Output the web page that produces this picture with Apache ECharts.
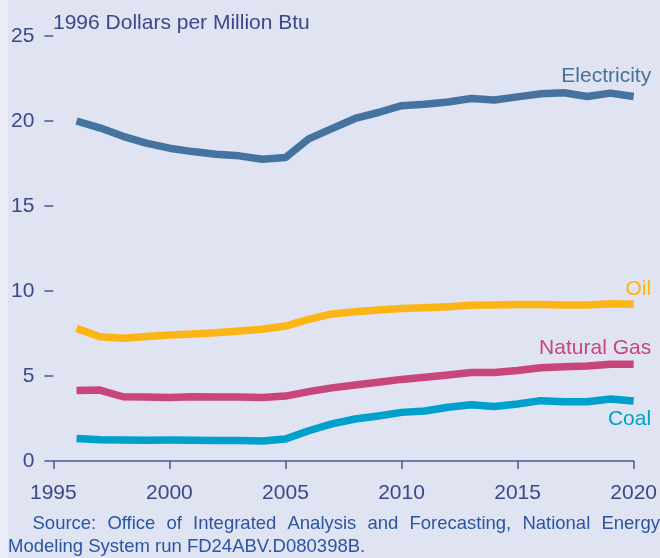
<!DOCTYPE html>
<html>

<head>
	<title>Energy prices</title>
	<script src="https://cdn.jsdelivr.net/npm/echarts@6/dist/echarts.min.js"></script>
	<style>
		body { margin: 0; background: #eceef8; }
		#main { position: absolute; left: 8px; top: 0; width: 652px; height: 558px; }
	</style>
</head>

<body>
	<div id="main"></div>
	<script type="text/javascript">
	var myChart = echarts.init(document.getElementById('main'));

	// years 1996..2020
	var years = [1996, 1997, 1998, 1999, 2000, 2001, 2002, 2003, 2004, 2005, 2006, 2007, 2008,
		2009, 2010, 2011, 2012, 2013, 2014, 2015, 2016, 2017, 2018, 2019, 2020];

	var electricity = [20.0, 19.6, 19.1, 18.7, 18.4, 18.2, 18.05, 17.95, 17.75, 17.85, 18.95, 19.55, 20.15,
		20.5, 20.9, 20.98, 21.12, 21.32, 21.24, 21.42, 21.6, 21.66, 21.44, 21.64, 21.44];
	var oil = [7.8, 7.31, 7.22, 7.32, 7.41, 7.47, 7.55, 7.65, 7.75, 7.94, 8.33, 8.65, 8.78,
		8.88, 8.97, 9.02, 9.08, 9.16, 9.17, 9.2, 9.21, 9.18, 9.18, 9.25, 9.22];
	var naturalGas = [4.14, 4.17, 3.78, 3.76, 3.73, 3.78, 3.77, 3.76, 3.73, 3.82, 4.08, 4.3, 4.47,
		4.63, 4.8, 4.92, 5.06, 5.2, 5.2, 5.32, 5.49, 5.55, 5.59, 5.69, 5.69];
	var coal = [1.33, 1.25, 1.24, 1.22, 1.23, 1.22, 1.21, 1.2, 1.18, 1.29, 1.78, 2.18, 2.47,
		2.65, 2.86, 2.94, 3.16, 3.31, 3.2, 3.35, 3.55, 3.49, 3.49, 3.65, 3.53];

	var xTicks = [1995, 2000, 2005, 2010, 2015, 2020];
	var yTicks = [0, 5, 10, 15, 20, 25];

	var axisColor = '#4b5897';
	var textColor = '#3b4889';
	var fontFamily = '"Liberation Sans", Arial, sans-serif';

	function pairs(vals) {
		return years.map(function(y, i) { return [y, vals[i]]; });
	}

	// name label placed next to the last point of a line
	function lineSeries(name, vals, color, offset) {
		var last = years.length - 1;
		return {
			name: name,
			type: 'line',
			showSymbol: false,
			lineStyle: { width: 7.5, color: color, cap: 'butt', join: 'round' },
			itemStyle: { color: color },
			data: pairs(vals),
			markPoint: {
				symbol: 'circle',
				symbolSize: 1,
				silent: true,
				itemStyle: { color: 'rgba(0,0,0,0)' },
				label: {
					show: true,
					formatter: name,
					position: offset,
					align: 'right',
					verticalAlign: 'middle',
					fontSize: 21,
					fontFamily: fontFamily,
					color: color
				},
				data: [{ coord: [years[last], vals[last]] }]
			}
		};
	}

	// justify the first source line across the width
	var line1 = 'Source: Office of Integrated Analysis and Forecasting, National Energy';
	var line2 = 'Modeling System run FD24ABV.D080398B.';
	var srcFont = '18.5px ' + fontFamily;
	var ctx = document.createElement('canvas').getContext('2d');
	ctx.font = srcFont;
	var words = line1.split(' ');
	var widths = words.map(function(w) { return ctx.measureText(w).width; });
	var total = widths.reduce(function(a, b) { return a + b; }, 0);
	var x0 = 24.5, x1 = 652;
	var gap = (x1 - x0 - total) / (words.length - 1);
	var graphics = [];
	var cx = x0;
	words.forEach(function(w, i) {
		graphics.push({
			type: 'text', left: cx, top: 508,
			style: { text: w, font: srcFont, fill: '#2a55a5' }
		});
		cx += widths[i] + gap;
	});
	graphics.push({
		type: 'text', left: 0, top: 531,
		style: { text: line2, font: srcFont, fill: '#2a55a5' }
	});

	option = {
		backgroundColor: '#dfe3f2',
		animation: false,
		title: {
			text: '1996 Dollars per Million Btu',
			left: 45,
			top: 5,
			padding: 0,
			textStyle: { fontSize: 21, fontWeight: 'normal', color: textColor, fontFamily: fontFamily }
		},
		grid: { left: 44.6, right: 25, top: 36, bottom: 97 },
		xAxis: {
			type: 'value',
			min: xTicks[0],
			max: xTicks[xTicks.length - 1],
			interval: 5,
			axisLine: { lineStyle: { color: axisColor, width: 1.5 } },
			axisTick: { length: 8, lineStyle: { color: axisColor, width: 1.5 } },
			axisLabel: {
				margin: 14,
				fontSize: 21,
				fontFamily: fontFamily,
				color: textColor,
				formatter: function(v) { return String(v); }
			},
			splitLine: { show: false }
		},
		yAxis: {
			type: 'value',
			min: yTicks[0],
			max: yTicks[yTicks.length - 1],
			interval: 5,
			axisLine: { show: false },
			axisTick: { show: true, length: 9, lineStyle: { color: axisColor, width: 1.5 } },
			axisLabel: { margin: 19, fontSize: 21, fontFamily: fontFamily, color: textColor },
			splitLine: { show: false }
		},
		graphic: graphics,
		series: [
			lineSeries('Electricity', electricity, '#44739f', [18, -20]),
			lineSeries('Oil', oil, '#fdb515', [18, -15]),
			lineSeries('Natural Gas', naturalGas, '#c84679', [18, -16]),
			lineSeries('Coal', coal, '#00a0cc', [18, 19])
		]
	};

	myChart.setOption(option);
	</script>
</body>

</html>
